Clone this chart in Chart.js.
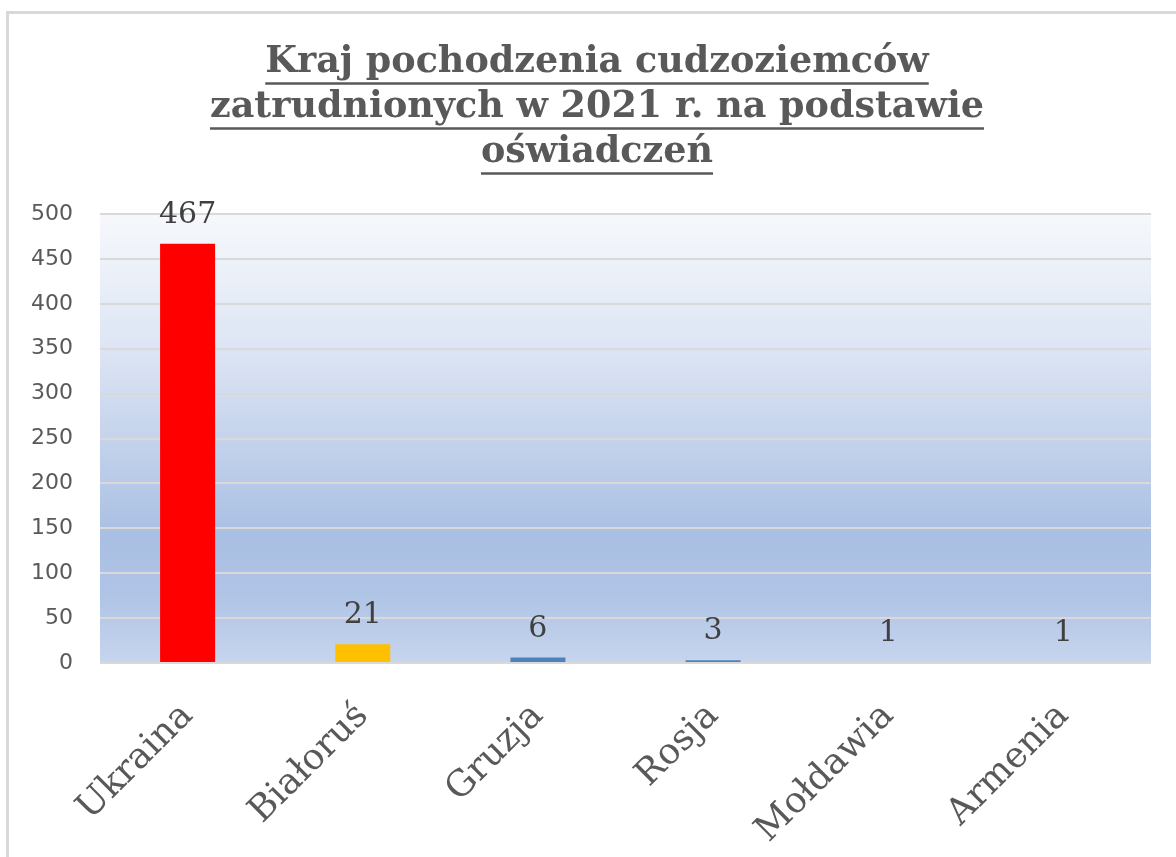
<!DOCTYPE html>
<html>
<head>
<meta charset="utf-8">
<script src="https://cdn.jsdelivr.net/npm/chart.js@4"></script>
<style>
  html, body { margin: 0; padding: 0; background: #ffffff; overflow: hidden; width: 1176px; height: 857px; }
  #frame { position: absolute; left: 6px; top: 11px; width: 1200px; height: 900px; border-left: 3px solid #d9d9d9; border-top: 3px solid #d9d9d9; box-sizing: border-box; }
  #c { position: absolute; left: 7px; top: 0; }
</style>
</head>
<body>
<div id="frame"></div>
<canvas id="c" width="1180" height="857"></canvas>
<script>
const titleLines = ["Kraj pochodzenia cudzoziemców", "zatrudnionych w 2021 r. na podstawie", "oświadczeń"];
const categories = ["Ukraina", "Białoruś", "Gruzja", "Rosja", "Mołdawia", "Armenia"];
const values = [467, 21, 6, 3, 1, 1];
const barColors = ["#ff0000", "#ffc000", "#4f81bd", "#4f81bd", "#4f81bd", "#4f81bd"];
const yTicks = [0, 50, 100, 150, 200, 250, 300, 350, 400, 450, 500];

const TITLE_FONT = "bold 36.5px 'DejaVu Serif', serif";
const TITLE_LH = 45;
const TITLE_TOP = 40;
const TITLE_CX = 590;

const bgPlugin = {
  id: 'bg',
  beforeDraw(chart) {
    const { ctx, chartArea: a } = chart;
    const g = ctx.createLinearGradient(0, a.top, 0, a.bottom);
    g.addColorStop(0, '#f6f8fc');
    g.addColorStop(0.3, '#dde5f4');
    g.addColorStop(0.72, '#a9bfe3');
    g.addColorStop(0.85, '#b0c4e6');
    g.addColorStop(1, '#c7d5ed');
    ctx.save();
    ctx.fillStyle = g;
    ctx.fillRect(a.left, a.top, a.right - a.left, a.bottom - a.top);
    ctx.restore();
  }
};

const titlePlugin = {
  id: 'utitle',
  afterDraw(chart) {
    const ctx = chart.ctx;
    ctx.save();
    ctx.font = TITLE_FONT;
    ctx.fillStyle = '#595959';
    ctx.strokeStyle = '#595959';
    ctx.lineWidth = 2.5;
    ctx.textAlign = 'center';
    ctx.textBaseline = 'middle';
    titleLines.forEach((t, i) => {
      const yc = TITLE_TOP + TITLE_LH * (i + 0.5);
      ctx.fillText(t, TITLE_CX, yc);
      const w = ctx.measureText(t).width;
      const y = yc + 21;
      ctx.beginPath();
      ctx.moveTo(TITLE_CX - w / 2, y);
      ctx.lineTo(TITLE_CX + w / 2, y);
      ctx.stroke();
    });
    ctx.restore();
  }
};

const labelPlugin = {
  id: 'vlabels',
  afterDatasetsDraw(chart) {
    const ctx = chart.ctx;
    const meta = chart.getDatasetMeta(0);
    ctx.save();
    ctx.font = "30px 'DejaVu Serif', serif";
    ctx.fillStyle = '#404040';
    ctx.textAlign = 'center';
    ctx.textBaseline = 'alphabetic';
    meta.data.forEach((el, i) => {
      ctx.fillText(String(values[i]), el.x, el.y - 21);
    });
    ctx.restore();
  }
};

new Chart(document.getElementById('c'), {
  type: 'bar',
  data: {
    labels: categories,
    datasets: [{
      data: values,
      backgroundColor: barColors,
      borderWidth: 0,
      barPercentage: 1,
      categoryPercentage: 0.314
    }]
  },
  options: {
    responsive: false,
    devicePixelRatio: 1,
    animation: false,
    layout: { padding: { left: 0, right: 36, top: 214, bottom: 0 } },
    plugins: {
      legend: { display: false },
      tooltip: { enabled: false },
      title: { display: false }
    },
    scales: {
      y: {
        min: 0, max: 500,
        afterFit(s) { s.width = 93; },
        afterBuildTicks(s) { s.ticks = yTicks.map(v => ({ value: v })); },
        ticks: { color: '#595959', font: { family: "'DejaVu Sans', sans-serif", size: 22 }, padding: 27 },
        grid: { color: '#d9d9d9', lineWidth: 2, drawTicks: false },
        border: { display: false }
      },
      x: {
        afterFit(s) { s.height = 194; },
        ticks: { color: '#595959', font: { family: "'DejaVu Serif', serif", size: 36 }, minRotation: 45, maxRotation: 45, padding: 32 },
        grid: { display: false, drawTicks: false },
        border: { display: false }
      }
    }
  },
  plugins: [bgPlugin, titlePlugin, labelPlugin]
});
</script>
</body>
</html>
